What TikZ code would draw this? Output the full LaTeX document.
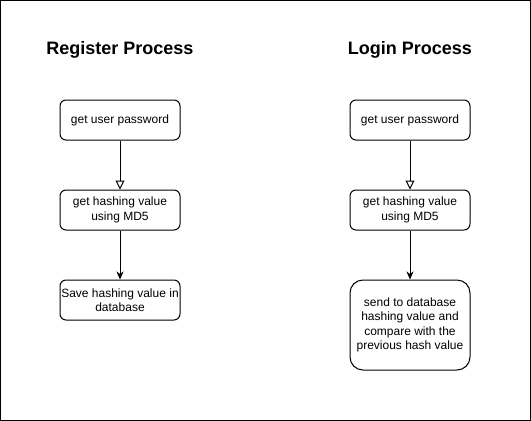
\documentclass[tikz,border=0pt]{standalone}
\usepackage{fontspec}
\setmainfont{Liberation Sans}
\usetikzlibrary{arrows.meta}
\begin{document}
\begin{tikzpicture}[x=1pt,y=-1pt,
  proc/.style={draw=black, line width=1pt, rounded corners=6pt, fill=white,
    minimum width=120pt, minimum height=40pt, align=center, inner sep=1pt,
    font=\fontsize{12}{14.5}\selectfont},
  title/.style={font=\fontsize{18}{21}\selectfont\bfseries},
  openarrow/.style={draw=black, line width=1pt, -{Triangle[open, length=9pt, width=9pt]}},
  fillarrow/.style={draw=black, line width=1pt, -{Stealth[length=8pt, width=7pt, inset=2.5pt]}}]
\useasboundingbox (0,0) rectangle (531,421);
\draw[line width=1pt] (0.5,0.5) rectangle (530.5,420.5);
\node[title] (t1) at (120,50) {Register Process};
\node[title] (t2) at (410,50) {Login Process};
\node[proc] (r1) at (120,120) {get user password};
\node[proc] (r2) at (120,210) {get hashing value\\using MD5};
\node[proc] (r3) at (120,300) {Save hashing value in\\database};
\node[proc] (l1) at (410,120) {get user password};
\node[proc] (l2) at (410,210) {get hashing value\\using MD5};
\node[proc, minimum height=90pt, rounded corners=13pt] (l3) at (410,325) {send to database\\hashing value and\\compare with the\\previous hash value};
\draw[openarrow] (r1) -- (r2);
\draw[fillarrow] (r2) -- (r3);
\draw[openarrow] (l1) -- (l2);
\draw[fillarrow] (l2) -- (l3);
\end{tikzpicture}
\end{document}
